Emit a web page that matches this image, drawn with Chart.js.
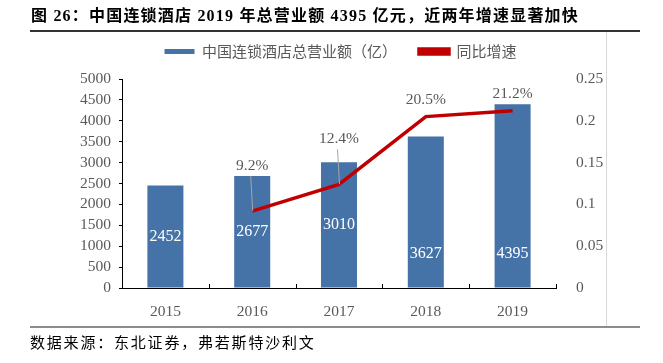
<!DOCTYPE html>
<html>
<head>
<meta charset="utf-8">
<script src="https://cdn.jsdelivr.net/npm/chart.js@4.4.1/dist/chart.umd.min.js"></script>
<style>
    body { margin: 0; width: 663px; height: 363px; background: #fff; position: relative; overflow: hidden; }
    #chart { position: absolute; left: 0; top: 0; }
    #title { position: absolute; left: 31px; top: 2px; font: bold 16px "Liberation Serif", "Noto Sans CJK SC", serif; letter-spacing: 1.2px; color: #000; white-space: nowrap; }
    #topline { position: absolute; left: 30px; top: 30px; width: 610px; height: 2px; background: #333; }
    #frame { position: absolute; left: 606px; top: 32px; width: 1px; height: 294px; background: #d9d9d9; }
    #botline { position: absolute; left: 30px; top: 326px; width: 610px; height: 2px; background: #8c8c8c; }
    #source { position: absolute; left: 30px; top: 331px; font: 15px "Noto Sans CJK SC", sans-serif; letter-spacing: 1.8px; color: #000; white-space: nowrap; }
</style>
</head>
<body>
<canvas id="chart" width="663" height="363"></canvas>
<div id="title">图 26：中国连锁酒店 2019 年总营业额 4395 亿元，近两年增速显著加快</div>
<div id="topline"></div>
<div id="frame"></div>
<div id="botline"></div>
<div id="source">数据来源：东北证券，弗若斯特沙利文</div>
<script>
var years = ['2015', '2016', '2017', '2018', '2019'];
var revenue = [2452, 2677, 3010, 3627, 4395];
var growth = [null, 0.092, 0.124, 0.205, 0.212];
var growthText = ['', '9.2%', '12.4%', '20.5%', '21.2%'];

var barColor = '#4572a7';
var lineColor = '#c00000';
var textGrey = '#595959';
var serif = '"Liberation Serif", "Times New Roman", serif';

// extra room under the legend, legend nudged right a little
var legendGap = {
    id: 'legendGap',
    beforeInit: function (chart) {
        var fit = chart.legend.fit;
        chart.legend.fit = function () {
            fit.bind(chart.legend)();
            this.height += 10;
        };
    },
    afterLayout: function (chart) {
        chart.legend.left += 9;
        chart.legend.right += 9;
    }
};

// white numbers in the bars, percent labels over the line, inner x ticks
var labelPlugin = {
    id: 'labels',
    afterDatasetsDraw: function (chart) {
        var ctx = chart.ctx;
        var yScale = chart.scales.y;
        var bars = chart.getDatasetMeta(0).data;
        var points = chart.getDatasetMeta(1).data;
        var area = chart.chartArea;

        ctx.save();
        ctx.strokeStyle = '#000';
        ctx.lineWidth = 1;
        var step = (area.right - area.left) / years.length;
        for (var k = 1; k <= years.length; k++) {
            var tx = Math.round(area.left + step * k) + 0.5;
            ctx.beginPath();
            ctx.moveTo(tx, area.bottom);
            ctx.lineTo(tx, area.bottom - 4);
            ctx.stroke();
        }

        ctx.font = '16px ' + serif;
        ctx.fillStyle = '#fff';
        ctx.textAlign = 'center';
        ctx.textBaseline = 'middle';
        bars.forEach(function (bar, i) {
            var ty = (bar.y + bar.base) / 2;
            if (i >= 3) {
                ty = yScale.getPixelForValue(830);
            }
            ctx.fillText(revenue[i], bar.x, ty);
        });

        ctx.font = '15.5px ' + serif;
        ctx.fillStyle = textGrey;
        points.forEach(function (pt, i) {
            if (growth[i] === null) return;
            var lift = i <= 2 ? 45 : 17;
            var ly = pt.y - lift;
            if (i <= 2) {
                ctx.strokeStyle = '#a6a6a6';
                ctx.beginPath();
                ctx.moveTo(pt.x - 1.5, ly + 10);
                ctx.lineTo(pt.x + 0.5, pt.y);
                ctx.stroke();
            }
            ctx.fillText(growthText[i], pt.x, ly);
        });
        ctx.restore();
    }
};

new Chart(document.getElementById('chart'), {
    type: 'bar',
    data: {
        labels: years,
        datasets: [{
            type: 'bar',
            label: '中国连锁酒店总营业额（亿）',
            data: revenue,
            backgroundColor: barColor,
            borderWidth: 0,
            barPercentage: 0.415,
            categoryPercentage: 1,
            yAxisID: 'y',
            order: 1
        }, {
            type: 'line',
            label: '同比增速',
            data: growth,
            borderColor: lineColor,
            backgroundColor: lineColor,
            borderWidth: 3.5,
            pointRadius: 0,
            tension: 0,
            yAxisID: 'y1',
            order: 0
        }]
    },
    options: {
        responsive: false,
        animation: false,
        layout: { padding: { top: 22, left: 0, right: 0, bottom: 0 } },
        plugins: {
            tooltip: { enabled: false },
            legend: {
                position: 'top',
                labels: {
                    boxWidth: 30,
                    boxHeight: 5,
                    padding: 22,
                    color: textGrey,
                    font: { size: 15, family: '"Noto Sans CJK SC", sans-serif' },
                    sort: function (a, b) { return a.datasetIndex - b.datasetIndex; }
                }
            }
        },
        scales: {
            x: {
                grid: { display: false },
                border: { display: true, color: '#000', width: 1 },
                ticks: { color: textGrey, font: { size: 15.5, family: serif }, padding: 7 },
                afterFit: function (scale) { scale.height = 75; }
            },
            y: {
                position: 'left',
                min: 0,
                max: 5000,
                grid: { drawOnChartArea: false, drawTicks: true, tickLength: 3, color: '#000' },
                border: { display: true, color: '#000', width: 1 },
                ticks: {
                    stepSize: 500,
                    autoSkip: false,
                    color: textGrey,
                    font: { size: 15.5, family: serif },
                    padding: 8,
                    callback: function (v) { return String(v); }
                },
                afterFit: function (scale) { scale.width = 122; }
            },
            y1: {
                position: 'right',
                min: 0,
                max: 0.25,
                grid: { display: false },
                border: { display: false },
                ticks: {
                    stepSize: 0.05,
                    autoSkip: false,
                    color: textGrey,
                    font: { size: 15.5, family: serif },
                    padding: 12,
                    callback: function (v) { return String(+v.toFixed(2)); }
                },
                afterFit: function (scale) { scale.width = 107; }
            }
        }
    },
    plugins: [legendGap, labelPlugin]
});
</script>
</body>
</html>
